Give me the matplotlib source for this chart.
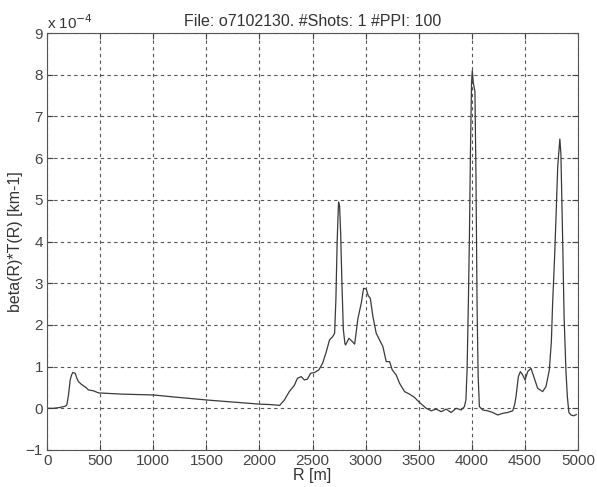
import numpy as np
import matplotlib
matplotlib.use('Agg')
import matplotlib.pyplot as plt

# Range (m) and beta(R)*T(R) in units of 1e-4 km-1
r_m = [10, 60, 120, 170, 185, 200, 217, 230, 242, 264, 280, 295, 320, 342, 365, 389,
       436, 483, 562, 700, 850, 1000, 1200, 1500, 1750, 2000, 2100, 2190, 2235, 2281,
       2328, 2358, 2393, 2423, 2452, 2482, 2520, 2559, 2595, 2630, 2660, 2690, 2708,
       2720, 2732, 2745, 2755, 2765, 2777, 2790, 2805, 2812, 2843, 2875, 2897, 2928,
       2959, 2981, 3006, 3025, 3044, 3069, 3100, 3132, 3163, 3194, 3226, 3251, 3288,
       3320, 3367, 3414, 3461, 3508, 3571, 3618, 3665, 3712, 3759, 3806, 3853, 3900,
       3931, 3945, 3956, 3968, 3978, 3988, 3998, 4005, 4015, 4030, 4040, 4050, 4060,
       4072, 4103, 4150, 4197, 4245, 4292, 4339, 4386, 4405, 4417, 4439, 4458, 4480,
       4502, 4527, 4558, 4590, 4621, 4668, 4699, 4731, 4750, 4762, 4780, 4793, 4810,
       4830, 4840, 4856, 4870, 4887, 4900, 4915, 4935, 4960, 4985]
beta_t = [0.0, 0.0, 0.02, 0.05, 0.08, 0.3, 0.68, 0.8, 0.86, 0.84, 0.72, 0.64, 0.58, 0.54,
          0.5, 0.44, 0.42, 0.37, 0.36, 0.34, 0.33, 0.32, 0.27, 0.2, 0.15, 0.1, 0.09, 0.07,
          0.2, 0.4, 0.55, 0.72, 0.76, 0.68, 0.7, 0.84, 0.86, 0.92, 1.08, 1.36, 1.64, 1.72,
          1.8, 2.6, 4.0, 4.95, 4.85, 4.2, 3.0, 1.9, 1.55, 1.52, 1.68, 1.6, 1.54, 2.16, 2.52,
          2.88, 2.86, 2.7, 2.64, 2.2, 1.8, 1.64, 1.48, 1.12, 1.12, 0.92, 0.8, 0.6, 0.4,
          0.34, 0.26, 0.14, 0.0, -0.06, -0.02, -0.08, -0.02, -0.1, 0.0, -0.04, 0.04, 0.2,
          0.92, 2.5, 4.1, 6.2, 7.8, 8.1, 7.8, 7.6, 5.5, 2.5, 0.8, 0.04, -0.04, -0.06, -0.1,
          -0.16, -0.12, -0.1, -0.06, 0.1, 0.28, 0.76, 0.88, 0.8, 0.68, 0.88, 0.96, 0.72,
          0.48, 0.4, 0.52, 0.92, 1.6, 2.52, 3.6, 4.52, 5.8, 6.46, 6.1, 4.1, 2.2, 0.92, 0.3,
          -0.1, -0.16, -0.18, -0.15]

x_ticks = [0, 500, 1000, 1500, 2000, 2500, 3000, 3500, 4000, 4500, 5000]
y_ticks = [-1, 0, 1, 2, 3, 4, 5, 6, 7, 8, 9]

plt.rcParams['font.family'] = ['Liberation Sans', 'DejaVu Sans']

fig = plt.figure(figsize=(5.97, 4.87), dpi=100)
ax = fig.add_axes([0.079, 0.076, 0.889, 0.856])

ax.plot(r_m, beta_t, color='#3a3a3a', linewidth=0.9)

ax.set_xlim(0, 5000)
ax.set_ylim(-1, 9)
ax.set_xticks(x_ticks)
ax.set_yticks(y_ticks)
ax.tick_params(direction='in', top=True, right=True, labelsize=11,
               colors='#444444', length=4, width=0.8, pad=3)
for s in ax.spines.values():
    s.set_color('#555555')
    s.set_linewidth(0.8)

ax.grid(True, color='#555555', linestyle=(0, (3, 3)), linewidth=0.8)

ax.set_xlabel('R [m]', fontsize=11.5, color='#333333', labelpad=0)
ax.set_ylabel('beta(R)*T(R) [km-1]', fontsize=11.5, color='#333333', labelpad=2)
ax.set_title('File: o7102130. #Shots: 1 #PPI: 100', fontsize=11.5, color='#333333', pad=5)
ax.text(0.0, 1.003, 'x 10$^{-4}$', transform=ax.transAxes, fontsize=11,
        color='#333333', va='bottom', ha='left')

plt.savefig('out.png', dpi=100)
